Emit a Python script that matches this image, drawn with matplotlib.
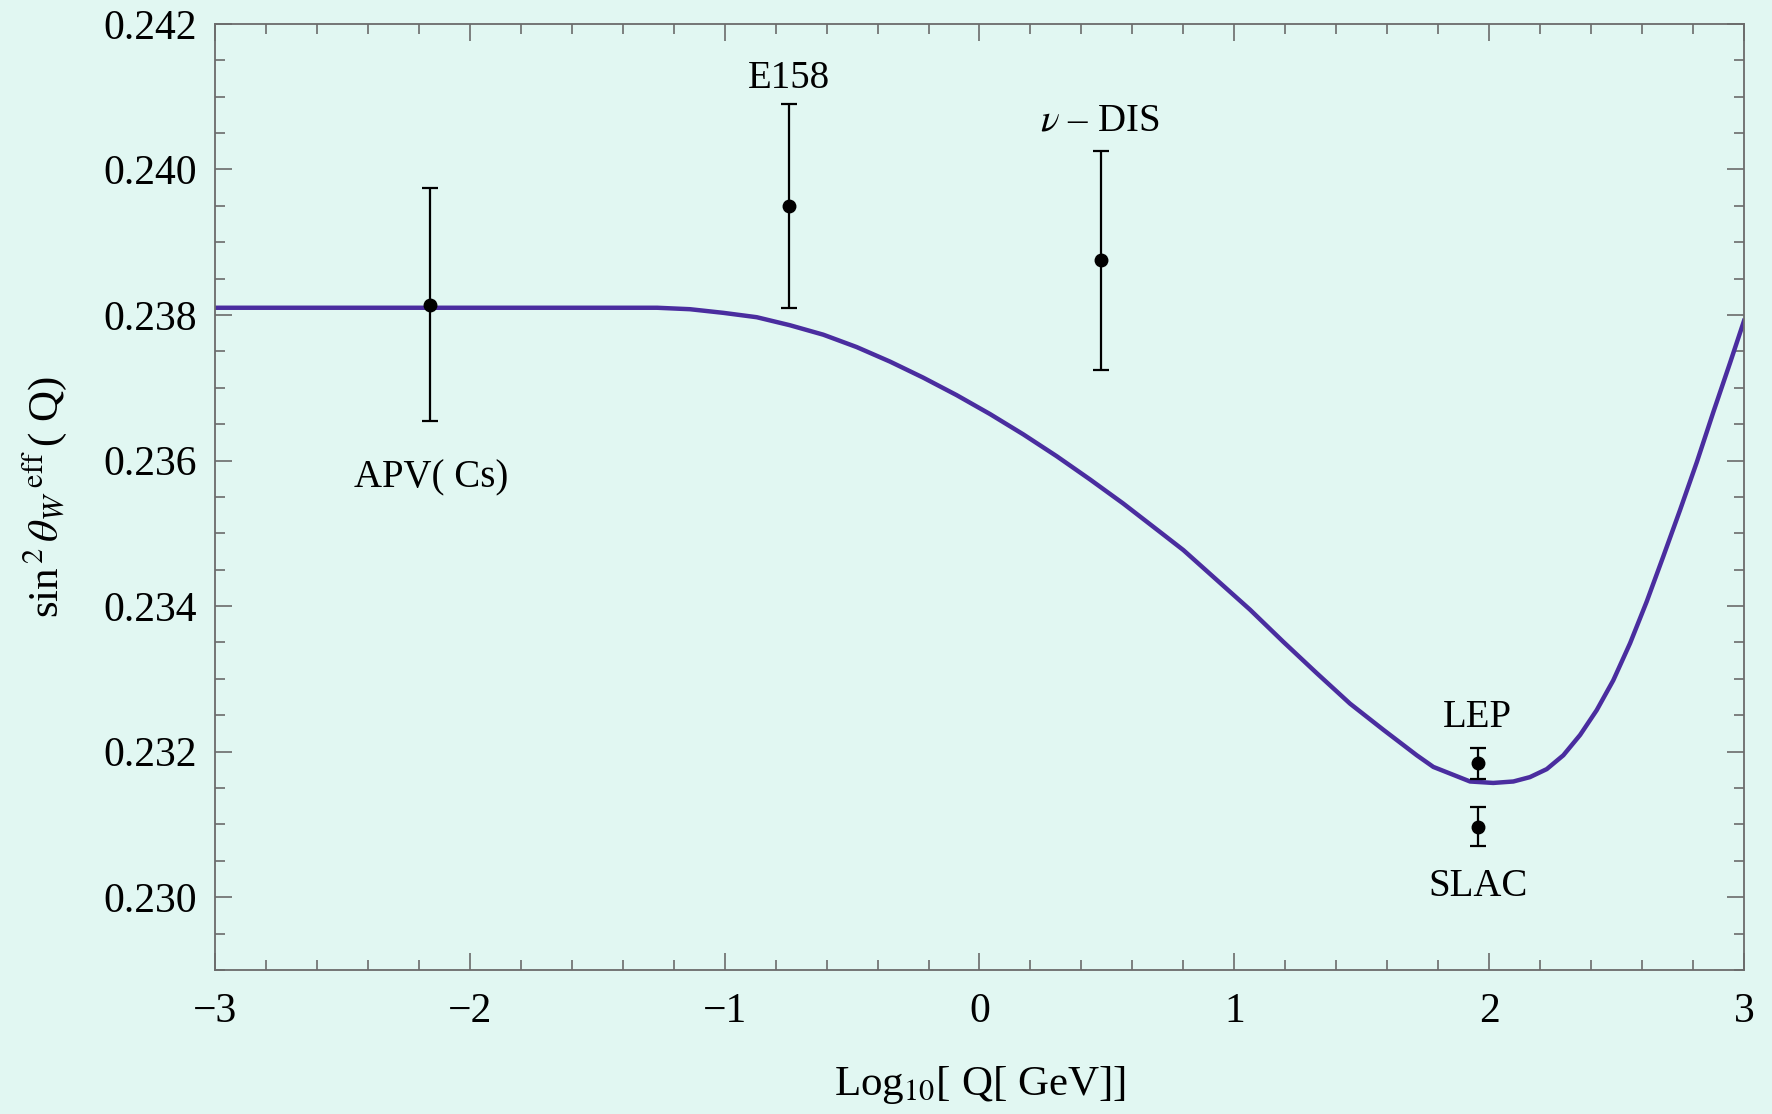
import matplotlib
matplotlib.use("Agg")
import matplotlib.pyplot as plt
from matplotlib.ticker import MultipleLocator

plt.rcParams['font.family'] = ['Liberation Serif', 'DejaVu Serif']
plt.rcParams['mathtext.fontset'] = 'stix'

# running sin^2 theta_W (effective) vs log10 Q
curve_x = [-3.0, -1.265, -1.136, -1.005, -0.874, -0.744, -0.613, -0.482,
           -0.351, -0.221, -0.090, 0.041, 0.172, 0.303, 0.434, 0.564, 0.708,
           0.800, 0.931, 1.062, 1.192, 1.323, 1.454, 1.585, 1.716, 1.781,
           1.925, 2.016, 2.095, 2.160, 2.226, 2.291, 2.357, 2.422, 2.487,
           2.553, 2.618, 2.683, 2.749, 2.815, 2.880, 2.945, 3.0]
curve_y = [0.23810, 0.23810, 0.23808, 0.23803, 0.23797, 0.23786, 0.23773,
           0.23756, 0.23736, 0.23714, 0.23690, 0.23664, 0.23636, 0.23606,
           0.23574, 0.23541, 0.23502, 0.23477, 0.23436, 0.23395, 0.23351,
           0.23308, 0.23266, 0.23230, 0.23195, 0.23179, 0.23159, 0.23157,
           0.23159, 0.23165, 0.23176, 0.23195, 0.23223, 0.23257, 0.23298,
           0.23349, 0.23406, 0.23468, 0.23532, 0.23598, 0.23667, 0.23734,
           0.23792]

# measurements
names = ['APV( Cs)', 'E158', r'$\nu$ – DIS', 'LEP', 'SLAC']
meas_x = [-2.155, -0.747, 0.478, 1.955, 1.955]
meas_y = [0.23814, 0.23950, 0.23875, 0.23184, 0.23097]
meas_err = [0.00160, 0.00140, 0.00150, 0.00021, 0.00027]
label_x = [-2.152, -0.747, 0.473, 1.955, 1.955]
label_y = [0.23576, 0.24125, 0.24066, 0.23247, 0.23015]

bg = '#e1f7f2'
fig = plt.figure(figsize=(17.72, 11.14), dpi=100, facecolor=bg)
ax = fig.add_axes([0.1213, 0.1293, 0.8629, 0.8492], facecolor=bg)

ax.plot(curve_x, curve_y, color='#4a2d9f', lw=3.2, solid_joinstyle='round', zorder=2)
ax.errorbar(meas_x, meas_y, yerr=meas_err, fmt='o', color='black', ms=9,
            elinewidth=1.6, capsize=6, capthick=1.6, zorder=3)

for t, x, y in zip(names, label_x, label_y):
    ax.text(x, y, t, ha='center', va='center', fontsize=28)

ax.set_xlim(-3, 3)
ax.set_ylim(0.229, 0.242)
ax.xaxis.set_major_locator(MultipleLocator(1))
ax.xaxis.set_minor_locator(MultipleLocator(0.2))
ax.yaxis.set_major_locator(MultipleLocator(0.002))
ax.yaxis.set_minor_locator(MultipleLocator(0.0005))
ax.yaxis.set_major_formatter(lambda v, p: f'{v:.3f}')

for s in ax.spines.values():
    s.set_color('#6b6b6b')
    s.set_linewidth(1.3)
ax.tick_params(which='both', direction='in', top=True, right=True,
               color='#6b6b6b', width=1.2, labelsize=30)
ax.tick_params(which='major', length=12)
ax.tick_params(which='minor', length=7.5)
ax.tick_params(axis='x', pad=16)
ax.tick_params(axis='y', pad=13)

ax.set_xlabel(r'Log$_{10}$[ Q[ GeV]]', fontsize=31)
ax.xaxis.set_label_coords(0.5, -0.122)
ax.xaxis.label.set_va('center')
ax.set_ylabel(r'sin$^{\,2}\,\theta_W{}^{\;\mathrm{eff}}\,$( Q)', fontsize=31)
ax.yaxis.set_label_coords(-0.111, 0.5)
ax.yaxis.label.set_va('center')

fig.savefig('out.png', dpi=100, facecolor=bg)
